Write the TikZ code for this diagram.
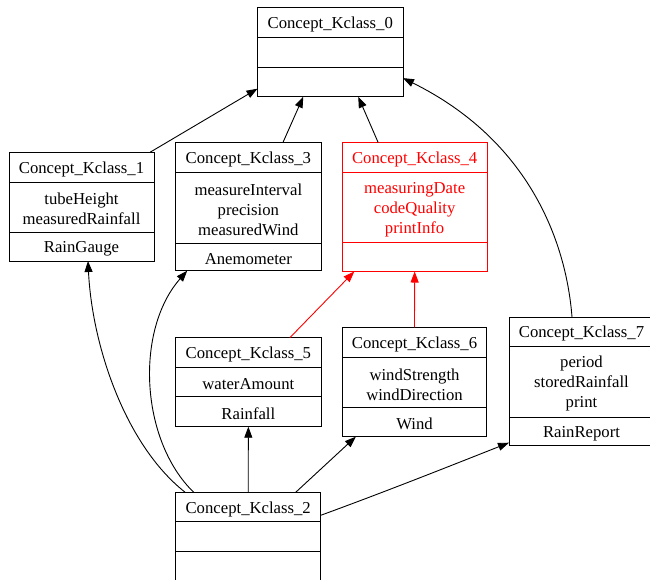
\documentclass[tikz,border=0pt]{standalone}
\usepackage{fontspec}
\setmainfont{Liberation Serif}
\usetikzlibrary{arrows.meta,calc,fit}

\tikzset{
  classbox/.style={draw, inner sep=0pt, outer sep=0pt, line width=0.9pt},
  divider/.style={line width=0.9pt},
  member/.style={font=\fontsize{16.7}{20}\selectfont, align=center, inner sep=0pt, yshift=-2pt},
  inherit/.style={line width=0.9pt, -{Triangle[length=11pt,width=8pt]}},
}

% \umlclass{name}{top-left}{bottom-right}{y of first divider}{y of second divider}{title}{attributes}{methods}
\newcommand{\umlclass}[8]{%
  \node[classbox, fit={(#2) (#3)}] (#1) {};
  \coordinate (#1-d1) at (0,#4);
  \coordinate (#1-d2) at (0,#5);
  \draw[divider] (#1.west |- #1-d1) -- (#1.east |- #1-d1)
                 (#1.west |- #1-d2) -- (#1.east |- #1-d2);
  \node[member] (#1-name) at ($(#1.north)!0.5!(#1.center |- #1-d1)$) {#6};
  \node[member] (#1-attr) at ($(#1.center |- #1-d1)!0.5!(#1.center |- #1-d2)$) {#7};
  \node[member] (#1-meth) at ($(#1.center |- #1-d2)!0.5!(#1.south)$) {#8};
}

\begin{document}
\begin{tikzpicture}[x=1pt,y=-1pt]
\useasboundingbox (0,0) rectangle (650,579);

% classes
\umlclass{b0}{257.5,7.5}{403,96.7}{37.3}{67.3}{Concept\_Kclass\_0}{}{}
\umlclass{b1}{9,152.3}{154,261}{182.3}{232}{Concept\_Kclass\_1}{tubeHeight\\measuredRainfall}{RainGauge}
\umlclass{b3}{175.7,142.7}{321,270.7}{172.5}{243.3}{Concept\_Kclass\_3}{measureInterval\\precision\\measuredWind}{Anemometer}
\begin{scope}[red]
\umlclass{b4}{342.3,142.5}{487,271.5}{172.3}{242.7}{Concept\_Kclass\_4}{measuringDate\\codeQuality\\printInfo}{}
\end{scope}
\umlclass{b5}{175.7,337.7}{321,426.7}{367.3}{396.7}{Concept\_Kclass\_5}{waterAmount}{Rainfall}
\umlclass{b6}{342.3,327.3}{486.7,436.7}{357.3}{407.3}{Concept\_Kclass\_6}{windStrength\\windDirection}{Wind}
\umlclass{b7}{509,317}{654,445.7}{346.7}{417}{Concept\_Kclass\_7}{period\\storedRainfall\\print}{RainReport}
\umlclass{b2}{175.7,492.3}{320.7,581}{521.7}{551}{Concept\_Kclass\_2}{}{}

% generalisations
\draw[inherit] ([xshift=-4pt]b1.north east) -- ([yshift=8pt]b0.south west);
\draw[inherit] ([xshift=34.5pt]b3.north) -- ([xshift=-27pt]b0.south);
\draw[inherit] ([xshift=-36.5pt]b4.north) -- ([xshift=28pt]b0.south);
\draw[inherit] ([xshift=-9.5pt]b7.north) .. controls (566,240) and (528,140) .. ([yshift=-26pt]b0.east);
\draw[inherit, red] ([xshift=41.5pt]b5.north) -- ([xshift=12pt]b4.south west);
\draw[inherit, red] (b6.north) -- (b4.south);
\draw[inherit] ([xshift=9.5pt]b2.north west) .. controls (125,445) and (92,345) .. ([xshift=6.5pt]b1.south);
\draw[inherit] ([xshift=18pt]b2.north west) .. controls (140,440) and (135,330) .. ([xshift=11.5pt]b3.south west);
\draw[inherit] (b2.north) -- (b5.south);
\draw[inherit] ([xshift=120pt]b2.north west) -- ([xshift=13.5pt]b6.south west);
\draw[inherit] ([yshift=-23pt]b2.north east) .. controls (390,490) and (460,462) .. ([yshift=3pt]b7.south west);
\end{tikzpicture}
\end{document}
